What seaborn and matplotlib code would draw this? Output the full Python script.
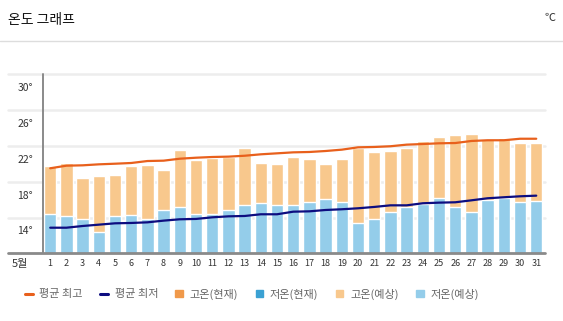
import matplotlib
matplotlib.use("Agg")
import matplotlib.pyplot as plt
import matplotlib.transforms as mtransforms
from matplotlib.lines import Line2D
from matplotlib.patches import Patch
import numpy as np
import pandas as pd
import seaborn as sns

days = list(range(1, 32))
high_forecast = [19.75, 20.09, 18.41, 18.64, 18.71, 19.75, 19.83, 19.34, 21.54, 20.46,
                 20.65, 20.80, 21.73, 20.09, 19.98, 20.72, 20.54, 20.01, 20.54, 21.73,
                 21.35, 21.43, 21.80, 22.55, 23.03, 23.22, 23.33, 22.81, 22.88, 22.36, 22.32]
low_forecast = [14.39, 14.20, 13.87, 12.42, 14.13, 14.24, 13.80, 14.87, 15.17, 14.43,
                14.39, 14.87, 15.40, 15.59, 15.40, 15.40, 15.70, 16.10, 15.70, 13.39,
                13.87, 14.65, 15.17, 15.47, 16.21, 15.17, 14.65, 15.96, 16.14, 15.70, 15.88]
avg_high = [19.50, 19.79, 19.83, 19.94, 20.01, 20.09, 20.31, 20.35, 20.57, 20.68,
            20.76, 20.80, 20.90, 21.06, 21.17, 21.28, 21.32, 21.43, 21.58, 21.84,
            21.88, 21.96, 22.14, 22.21, 22.29, 22.32, 22.55, 22.63, 22.63, 22.80, 22.80]
avg_low = [12.86, 12.86, 13.05, 13.20, 13.35, 13.39, 13.46, 13.65, 13.80, 13.84,
           14.02, 14.13, 14.17, 14.36, 14.36, 14.65, 14.69, 14.84, 14.92, 15.03,
           15.18, 15.36, 15.36, 15.59, 15.66, 15.70, 15.92, 16.15, 16.26, 16.37, 16.44]
y_ticks = [14, 18, 22, 26, 30]
legend_labels = ["평균 최고", "평균 최저", "고온(현재)", "저온(현재)", "고온(예상)", "저온(예상)"]

C_HIGH_NOW = "#F0994A"
C_LOW_NOW = "#3BA1D3"
C_HIGH_FC = "#F8C88D"
C_LOW_FC = "#94CDEA"
C_AVG_HIGH = "#E8601C"
C_AVG_LOW = "#0D0D80"

sns.set_style("white")
plt.rcParams["font.family"] = ["Noto Sans CJK KR", "DejaVu Sans"]

df = pd.DataFrame({"day": [str(d) for d in days], "pos": np.arange(len(days)),
                   "high": high_forecast, "low": low_forecast,
                   "avg_high": avg_high, "avg_low": avg_low})

W, H = 563, 321
fig = plt.figure(figsize=(W / 100, H / 100), dpi=100)
ax = fig.add_axes([43 / W, (H - 253.3) / H, (545 - 43) / W, (253.3 - 74.3) / H])

# grid lines extending to the left
xg0 = (8 - 43) / 502
for v in y_ticks:
    ax.plot([xg0, 1], [v, v], transform=ax.get_yaxis_transform(), color="#EDEDED",
            lw=1.8, clip_on=False, zorder=0)

sns.barplot(data=df, x="day", y="high", color=C_HIGH_FC, width=0.76, ax=ax,
            saturation=1, zorder=2)
sns.barplot(data=df, x="day", y="low", color=C_LOW_FC, width=0.76, ax=ax,
            saturation=1, zorder=3)
sns.lineplot(data=df, x="pos", y="avg_high", color=C_AVG_HIGH, lw=1.6, ax=ax, zorder=4)
sns.lineplot(data=df, x="pos", y="avg_low", color=C_AVG_LOW, lw=1.6, ax=ax, zorder=4)

ax.set_xlim(-0.445, 30.54)
ax.set_ylim(10, 30)
ax.set_xlabel("")
ax.set_ylabel("")
ax.set_yticks(y_ticks)
ax.set_yticklabels([])
ax.tick_params(axis="both", length=0)
ax.tick_params(axis="x", labelsize=6.5, labelcolor="#333333", pad=4)
for s in ["top", "right", "bottom", "left"]:
    ax.spines[s].set_visible(False)

# left axis line
ax.plot([0, 0], [0, 1], transform=ax.transAxes, color="#8A8A8A", lw=1.4,
        clip_on=False, zorder=5)
# bottom axis line
ax.plot([xg0, 1], [0, 0], transform=ax.transAxes, color="#8A8A8A", lw=2.0,
        clip_on=False, zorder=5)

# y labels (drawn slightly below the grid line, as in the reference)
off = mtransforms.ScaledTranslation(-10 / 100, -14 / 100, fig.dpi_scale_trans)
for v in y_ticks:
    ax.text(0, v, f"{v}°", transform=ax.get_yaxis_transform() + off,
            ha="right", va="center", fontsize=7.5, color="#333333")

fig.text(12 / W, 1 - 264 / H, "5월", fontsize=8, color="#333333", ha="left", va="center")

# header
fig.text(8 / W, 1 - 20 / H, "온도 그래프", fontsize=10, color="#111111", ha="left", va="center")
fig.text(556 / W, 1 - 18 / H, "℃", fontsize=8, color="#333333", ha="right", va="center")
fig.add_artist(Line2D([0, 1], [1 - 40.5 / H, 1 - 40.5 / H], transform=fig.transFigure,
                      color="#DDDDDD", lw=1))

handles = [
    Line2D([], [], color=C_AVG_HIGH, lw=2.2),
    Line2D([], [], color=C_AVG_LOW, lw=2.2),
    Patch(color=C_HIGH_NOW),
    Patch(color=C_LOW_NOW),
    Patch(color=C_HIGH_FC),
    Patch(color=C_LOW_FC),
]
fig.legend(handles, legend_labels, loc="center left", bbox_to_anchor=(25 / W, 1 - 294 / H),
           ncol=6, frameon=False, fontsize=8, labelcolor="#666666",
           handlelength=0.7, handleheight=0.7, handletextpad=0.6, columnspacing=1.55,
           borderaxespad=0, borderpad=0)

fig.savefig("out.png", dpi=100)
